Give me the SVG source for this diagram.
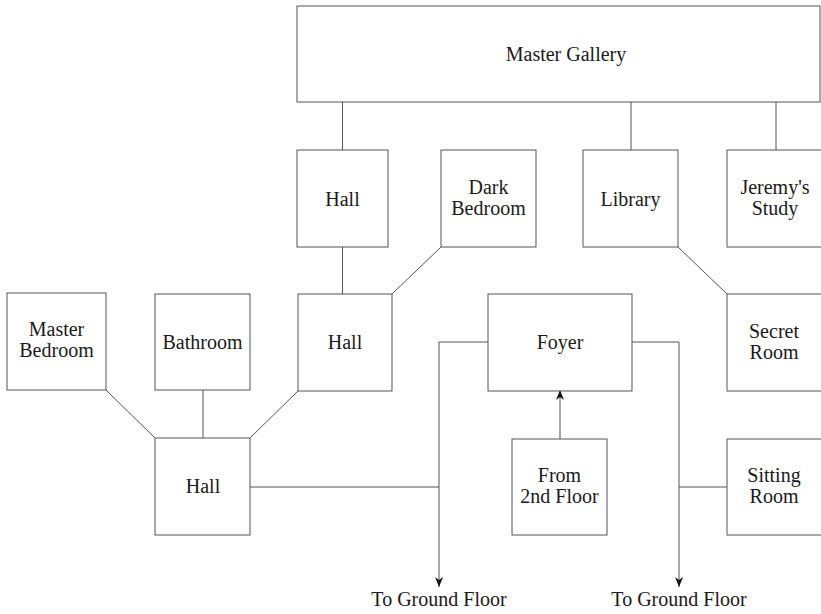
<svg xmlns="http://www.w3.org/2000/svg" width="821" height="614" viewBox="0 0 821 614">
<style>
.box{fill:#ffffff;stroke:#555;stroke-width:1}
.ln{fill:none;stroke:#555;stroke-width:1}
.t{font-family:"Liberation Serif","Times New Roman",serif;font-size:20px;fill:#1a1a1a;text-anchor:middle}
</style>
<defs>
<marker id="ah" viewBox="0 0 10 8" refX="10" refY="4" markerWidth="10" markerHeight="8" markerUnits="userSpaceOnUse" orient="auto">
<path d="M0,0 L10,4 L0,8 L3,4 z" fill="#111"/>
</marker>
</defs>
<rect width="821" height="614" fill="#ffffff"/>
<g id="connectors">
<line class="ln" x1="342.5" y1="102" x2="342.5" y2="150"/>
<line class="ln" x1="631" y1="102" x2="631" y2="150"/>
<line class="ln" x1="776" y1="102" x2="776" y2="150"/>
<line class="ln" x1="342.5" y1="247" x2="342.5" y2="294"/>
<line class="ln" x1="441" y1="247" x2="392" y2="294"/>
<line class="ln" x1="678" y1="247" x2="727" y2="294"/>
<line class="ln" x1="106" y1="390" x2="155" y2="438"/>
<line class="ln" x1="203" y1="390" x2="203" y2="438"/>
<line class="ln" x1="298" y1="391" x2="250" y2="438"/>
<line class="ln" x1="250" y1="487" x2="439" y2="487"/>
<path class="ln" d="M488,342 H439 V587" marker-end="url(#ah)"/>
<path class="ln" d="M632,342 H679 V587" marker-end="url(#ah)"/>
<line class="ln" x1="679" y1="487" x2="727" y2="487"/>
<line class="ln" x1="560" y1="439" x2="560" y2="390" marker-end="url(#ah)"/>
</g>
<g id="master-gallery"><rect class="box" x="297" y="6" width="523" height="96"/><text class="t" x="566" y="61">Master Gallery</text></g>
<g id="hall-top"><rect class="box" x="297" y="150" width="91" height="97"/><text class="t" x="342.5" y="206">Hall</text></g>
<g id="dark-bedroom"><rect class="box" x="441" y="150" width="95" height="97"/><text class="t" x="488.5" y="194">Dark</text><text class="t" x="488.5" y="215">Bedroom</text></g>
<g id="library"><rect class="box" x="583" y="150" width="95" height="97"/><text class="t" x="630.5" y="206">Library</text></g>
<g id="jeremys-study"><rect class="box" x="727" y="150" width="95" height="97"/><text class="t" x="775" y="194">Jeremy's</text><text class="t" x="775" y="215">Study</text></g>
<g id="master-bedroom"><rect class="box" x="7" y="293" width="99" height="97"/><text class="t" x="56.5" y="336">Master</text><text class="t" x="56.5" y="357">Bedroom</text></g>
<g id="bathroom"><rect class="box" x="155" y="294" width="95" height="96"/><text class="t" x="202.5" y="349">Bathroom</text></g>
<g id="hall-mid"><rect class="box" x="298" y="294" width="94" height="97"/><text class="t" x="345" y="349">Hall</text></g>
<g id="foyer"><rect class="box" x="488" y="294" width="144" height="97"/><text class="t" x="560" y="349">Foyer</text></g>
<g id="secret-room"><rect class="box" x="727" y="294" width="95" height="97"/><text class="t" x="774" y="338">Secret</text><text class="t" x="774" y="359">Room</text></g>
<g id="hall-bottom"><rect class="box" x="155" y="438" width="95" height="97"/><text class="t" x="203" y="493">Hall</text></g>
<g id="from-2nd-floor"><rect class="box" x="512" y="439" width="95" height="96"/><text class="t" x="559.5" y="482">From</text><text class="t" x="559.5" y="503">2nd Floor</text></g>
<g id="sitting-room"><rect class="box" x="727" y="439" width="95" height="96"/><text class="t" x="774" y="482">Sitting</text><text class="t" x="774" y="503">Room</text></g>
<g id="to-ground-left"><text class="t" x="439" y="606">To Ground Floor</text></g>
<g id="to-ground-right"><text class="t" x="679" y="606">To Ground Floor</text></g>
</svg>
